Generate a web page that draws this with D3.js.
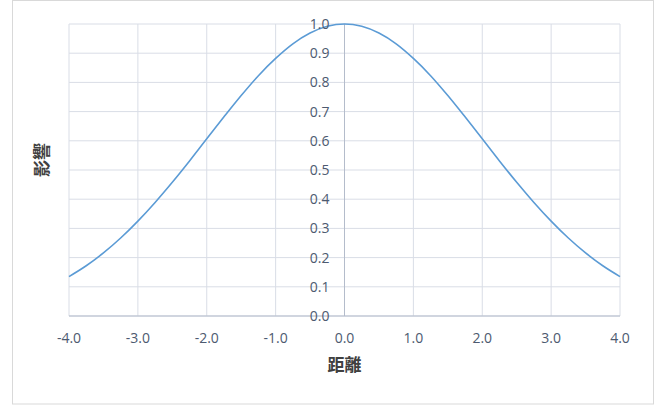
<!DOCTYPE html>
<html><head><meta charset="utf-8">
<script src="https://cdn.jsdelivr.net/npm/d3@7"></script>
<style>body{margin:0;background:#fff}svg{display:block}</style>
</head><body>
<script>
const xValues = [-4,-3.75,-3.5,-3.25,-3,-2.75,-2.5,-2.25,-2,-1.75,-1.5,-1.25,-1,-0.75,-0.5,-0.25,0,0.25,0.5,0.75,1,1.25,1.5,1.75,2,2.25,2.5,2.75,3,3.25,3.5,3.75,4];
const yValues = [0.135,0.172,0.216,0.267,0.325,0.389,0.458,0.531,0.607,0.682,0.755,0.823,0.882,0.932,0.969,0.992,1.0,0.992,0.969,0.932,0.882,0.823,0.755,0.682,0.607,0.531,0.458,0.389,0.325,0.267,0.216,0.172,0.135];
const xTicks = [-4,-3,-2,-1,0,1,2,3,4];
const yTicks = [0,0.1,0.2,0.3,0.4,0.5,0.6,0.7,0.8,0.9,1.0];
const xTitle = "距離";
const yTitle = "影響";

const W = 664, H = 405;
const svg = d3.select("body").append("svg").attr("width", W).attr("height", H);
svg.append("rect").attr("x",12.5).attr("y",0.5).attr("width",641).attr("height",403.5)
  .attr("fill","#fff").attr("stroke","#d9d9d9");

const x = d3.scaleLinear().domain([-4,4]).range([69,620]);
const y = d3.scaleLinear().domain([0,1]).range([316,24]);
const font = "'Open Sans', sans-serif";
const tickColor = "#4d5a70";
const fmt = d => d3.format(".1f")(d).replace("\u2212","-");

// grid
svg.append("g").selectAll("line").data(xTicks).join("line")
  .attr("x1",d=>x(d)).attr("x2",d=>x(d)).attr("y1",y(0)).attr("y2",y(1))
  .attr("stroke","#d9dde6").attr("stroke-width",1);
svg.append("g").selectAll("line").data(yTicks).join("line")
  .attr("x1",x(-4)).attr("x2",x(4)).attr("y1",d=>y(d)).attr("y2",d=>y(d))
  .attr("stroke","#d9dde6").attr("stroke-width",1);

// axes lines
svg.append("line").attr("x1",x(0)).attr("x2",x(0)).attr("y1",y(0)).attr("y2",y(1))
  .attr("stroke","#b4bccb").attr("stroke-width",1);
svg.append("line").attr("x1",x(-4)).attr("x2",x(4)).attr("y1",y(0)).attr("y2",y(0))
  .attr("stroke","#b4bccb").attr("stroke-width",1);

// curve
const line = d3.line().x((d,i)=>x(xValues[i])).y(d=>y(d)).curve(d3.curveMonotoneX);
svg.append("path").datum(yValues).attr("d",line).attr("fill","none")
  .attr("stroke","#5b9bd5").attr("stroke-width",1.6);

// tick labels
svg.append("g").selectAll("text").data(yTicks).join("text")
  .attr("x",x(0)-15).attr("y",d=>y(d)).attr("dy","0.35em").attr("text-anchor","end")
  .attr("font-family",font).attr("font-size",14).attr("fill",tickColor)
  .text(fmt);
svg.append("g").selectAll("text").data(xTicks).join("text")
  .attr("x",d=>x(d)).attr("y",338).attr("dy","0.35em").attr("text-anchor","middle")
  .attr("font-family",font).attr("font-size",14).attr("fill",tickColor)
  .text(fmt);

// titles
svg.append("text").attr("x",x(0)).attr("y",365).attr("dy","0.35em").attr("text-anchor","middle")
  .attr("font-family","'Noto Sans CJK JP', sans-serif").attr("font-weight","bold")
  .attr("font-size",17).attr("fill","#404040").text(xTitle);
svg.append("text").attr("transform","translate(42,160) rotate(-90)").attr("dy","0.35em")
  .attr("text-anchor","middle")
  .attr("font-family","'Noto Sans CJK JP', sans-serif").attr("font-weight","bold")
  .attr("font-size",17).attr("fill","#404040").text(yTitle);
</script>
</body></html>
